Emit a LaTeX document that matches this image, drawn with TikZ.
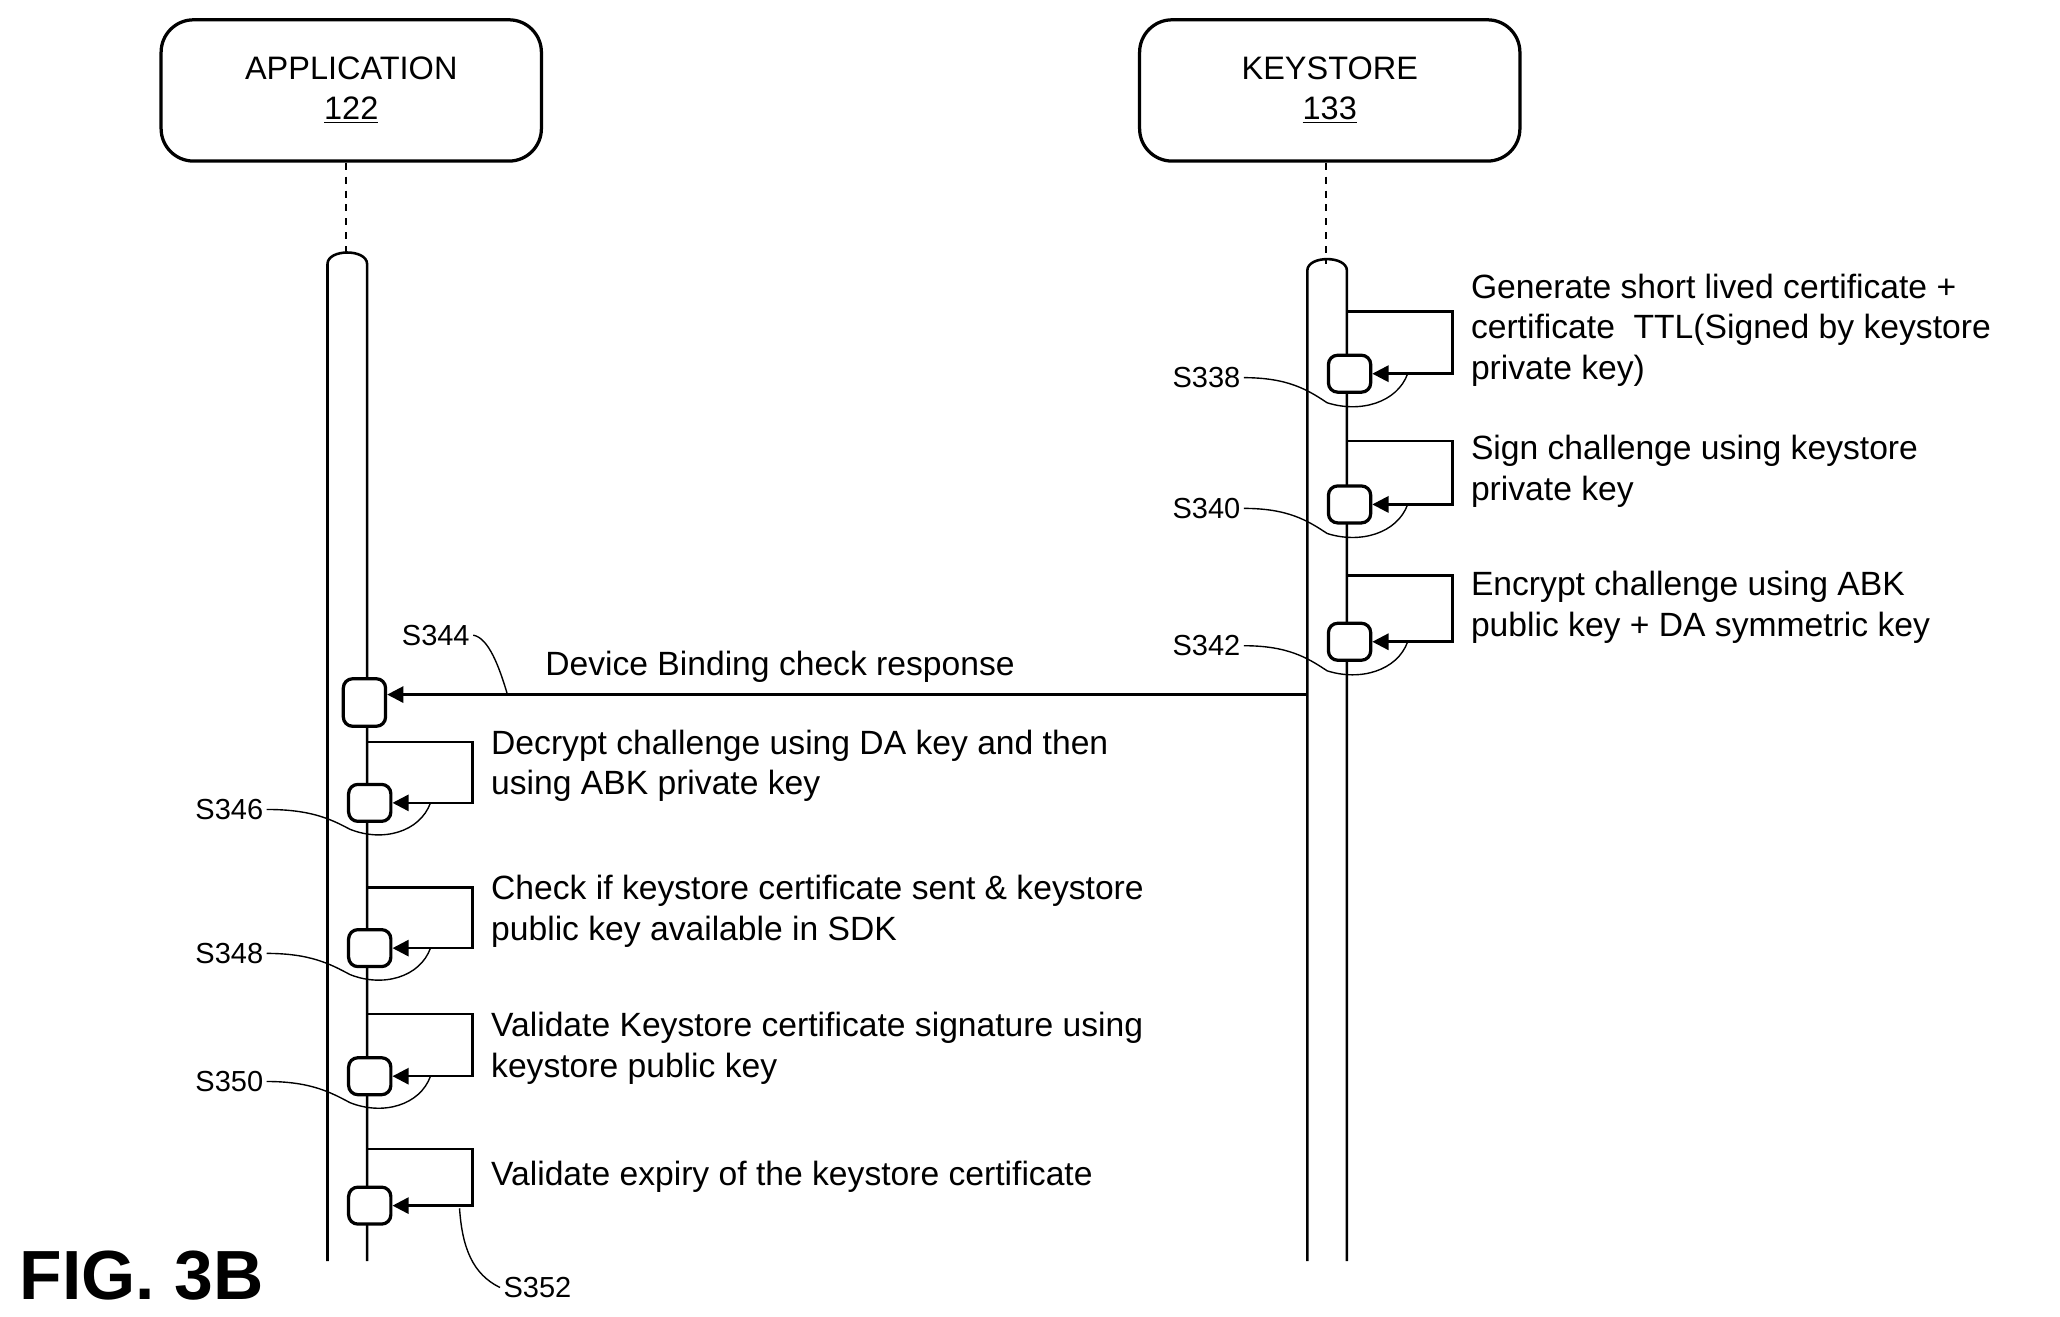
\documentclass[tikz,border=0pt]{standalone}
\usepackage{fontspec}
\setmainfont{Liberation Sans}
\usetikzlibrary{arrows.meta}
\begin{document}
\begin{tikzpicture}[x=0.02cm,y=-0.02cm,
  line width=1.1pt,
  head/.style={draw,rounded corners=14pt,minimum width=288*0.02cm,minimum height=107*0.02cm,align=center,font=\fontsize{14}{17}\selectfont,line width=1.4pt},
  bar/.style={draw,line width=1.1pt},
  act/.style={draw,rounded corners=4pt,minimum width=32*0.02cm,minimum height=28*0.02cm,inner sep=0pt,line width=1.4pt,fill=white},
  loopln/.style={-{Triangle[length=7pt,width=7pt]},line width=1.1pt},
  txt/.style={font=\fontsize{14.5}{17.5pt}\selectfont,anchor=west,align=left,inner sep=0pt},
  lbl/.style={font=\fontsize{12.5}{15}\selectfont,inner sep=1pt},
  lead/.style={line width=0.6pt}]
\useasboundingbox (0,0) rectangle (1560,996.6);
% heads
\node[head] (app) at (266,68.5) {APPLICATION\\\underline{122}};
\node[head] (ks) at (1007,68.5) {KEYSTORE\\\underline{133}};
\draw[dashed] (app.south -| 262,0) -- (262,195);
\draw[dashed] (ks.south -| 1004,0) -- (1004,200);
% activation bars
\draw[bar] (248,955) -- (248,200) to[out=90,in=90,looseness=1] (278,200) -- (278,955);
\draw[bar] (990,955) -- (990,205) to[out=90,in=90,looseness=1] (1020,205) -- (1020,955);
% keystore self loops
\foreach \t/\b/\n in {236/283/338,334/382/340,436/486/342}{
  \node[act] (k\n) at (1022,\b) {};
  \draw[loopln] (1020,\t) -- (1100,\t) -- (1100,\b) -- (k\n.east);
  \node[lbl,anchor=east] (lk\n) at (942,\b+3) {S\n};
  \draw[lead] (lk\n.east) .. controls (975,\b+3) and (990,\b+12) .. (1005,\b+22)
     .. controls (1030,\b+30) and (1058,\b+22) .. (1066,\b);
}
\node[txt] (t338) at (1113,250) {Generate short lived certificate +\\certificate\ \ TTL(Signed by keystore\\private key)};
\node[txt] (t340) at (1113,357) {Sign challenge using keystore\\private key};
\node[txt] (t342) at (1113,460) {Encrypt challenge using ABK\\public key + DA symmetric key};
% message
\node[act,minimum height=36*0.02cm] (a344) at (276,532) {};
\draw[loopln] (990,526) -- (a344.east |- 0,526) coordinate (m);
\node[lbl] (l344) at (330,481) {S344};
\draw[lead] (l344.east) .. controls (370,483) and (378,505) .. (384,525);
\node[txt] at (412,505) {Device Binding check response};
% app self loops
\foreach \t/\b/\n in {562/608/346,672/718/348,768/815/350,870/913/352}{
  \node[act] (a\n) at (280,\b) {};
  \draw[loopln] (278,\t) -- (358,\t) -- (358,\b) -- (a\n.east);
}
\foreach \b/\n/\ly in {608/346/613,718/348/722,815/350/819}{
  \node[lbl,anchor=east] (la\n) at (202,\ly) {S\n};
  \draw[lead] (la\n.east) .. controls (235,\ly) and (250,\b+12) .. (265,\b+20)
     .. controls (290,\b+30) and (318,\b+22) .. (326,\b);
}
\node[lbl] (la352) at (407,975) {S352};
\draw[lead] (348,915) .. controls (350,945) and (358,965) .. (la352.west);
\node[txt] at (371,580) {Decrypt challenge using DA key and then\\using ABK private key};
\node[txt] at (371,690) {Check if keystore certificate sent \& keystore\\public key available in SDK};
\node[txt] at (371,794) {Validate Keystore certificate signature using\\keystore public key};
\node[txt] at (371,891) {Validate expiry of the keystore certificate};
\node[anchor=west,inner sep=0pt,font=\fontsize{30}{34}\selectfont\bfseries] (fig) at (14,966) {FIG. 3B};
\end{tikzpicture}
\end{document}
